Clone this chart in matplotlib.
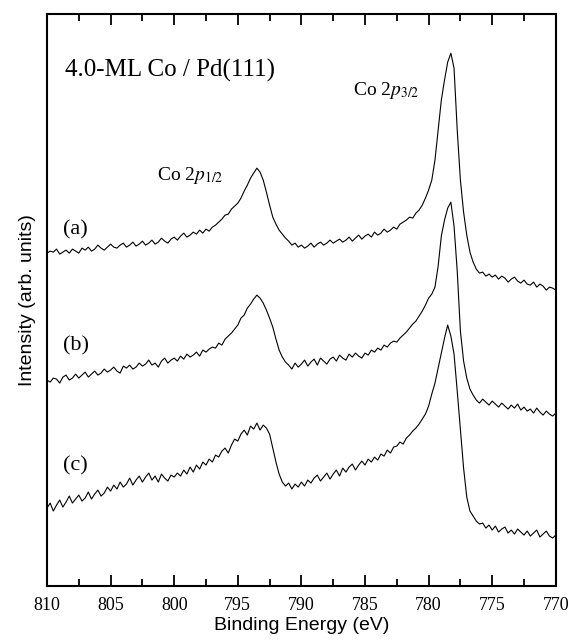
import numpy as np
import matplotlib
matplotlib.use('Agg')
import matplotlib.pyplot as plt
from matplotlib.ticker import MultipleLocator

plt.rcParams['font.family'] = 'Liberation Serif'
plt.rcParams['mathtext.fontset'] = 'stix'

# binding energy grid (eV), 0.25 eV steps from 810 down to 770
energy = 810 - 0.25 * np.arange(161)

# intensities (arb. units)
spec_a = [333, 335, 334, 337, 332, 334, 336, 333, 337, 335,
          333, 338, 336, 339, 335, 337, 341, 338, 336, 339,
          342, 339, 338, 341, 343, 339, 341, 344, 340, 342,
          345, 341, 343, 346, 342, 344, 348, 345, 343, 347,
          349, 346, 350, 353, 349, 351, 354, 352, 356, 353,
          357, 355, 359, 361, 364, 367, 371, 372, 377, 380,
          383, 388, 395, 401, 408, 413, 418, 414, 406, 394,
          381, 369, 362, 356, 352, 348, 345, 341, 343, 339,
          341, 338, 340, 343, 339, 342, 344, 341, 343, 346,
          343, 345, 347, 344, 346, 349, 345, 348, 351, 347,
          350, 352, 349, 354, 351, 353, 357, 354, 356, 359,
          357, 362, 364, 366, 369, 368, 373, 376, 381, 388,
          396, 406, 426, 456, 486, 506, 524, 533, 518, 456,
          406, 374, 351, 334, 324, 317, 313, 314, 310, 312,
          309, 311, 307, 310, 308, 304, 307, 309, 305, 303,
          306, 302, 301, 304, 299, 302, 300, 296, 299, 298,
          296]

spec_b = [206, 204, 208, 207, 203, 209, 211, 206, 208, 212,
          208, 211, 214, 209, 212, 215, 211, 213, 217, 214,
          216, 219, 215, 213, 220, 218, 221, 217, 219, 223,
          220, 222, 226, 221, 223, 219, 225, 228, 223, 226,
          228, 225, 230, 227, 232, 229, 231, 234, 230, 236,
          234, 237, 239, 238, 243, 241, 247, 250, 253, 257,
          261, 268, 271, 278, 282, 287, 291, 288, 283, 276,
          268, 259, 247, 236, 229, 224, 221, 217, 223, 219,
          222, 226, 220, 224, 227, 221, 228, 225, 222, 227,
          229, 225, 231, 228, 226, 232, 229, 233, 230, 228,
          233, 231, 236, 234, 238, 236, 241, 239, 243, 245,
          244, 248, 251, 254, 258, 262, 265, 270, 275, 281,
          288, 292, 299, 320, 350, 366, 378, 384, 360, 315,
          255, 225, 208, 197, 191, 186, 183, 187, 184, 181,
          185, 182, 179, 183, 180, 177, 181, 178, 182, 176,
          179, 175, 177, 173, 178, 174, 171, 175, 172, 170,
          173]

spec_c = [78, 83, 75, 81, 86, 79, 84, 90, 83, 87,
          91, 85, 88, 94, 87, 92, 96, 90, 93, 99,
          95, 101, 97, 104, 99, 102, 108, 101, 106, 110,
          104, 109, 113, 106, 110, 104, 112, 108, 105, 111,
          109, 113, 110, 116, 112, 119, 114, 121, 117, 124,
          121, 127, 124, 131, 129, 135, 138, 133, 141, 147,
          145, 152, 156, 151, 160, 157, 163, 156, 161, 158,
          152, 138, 124, 112, 104, 100, 103, 97, 102, 99,
          104, 100, 106, 103, 108, 111, 105, 109, 113, 107,
          112, 116, 110, 118, 114, 119, 122, 116, 121, 125,
          121, 127, 124, 129, 126, 132, 130, 136, 133, 139,
          140, 144, 142, 148, 151, 155, 158, 162, 167, 172,
          180, 192, 203, 218, 233, 248, 261, 250, 232, 195,
          156, 118, 89, 75, 70, 65, 62, 63, 58, 61,
          56, 60, 54, 57, 59, 53, 56, 52, 57, 54,
          51, 55, 50, 53, 56, 49, 52, 55, 50, 48,
          51]

fig = plt.figure(figsize=(5.73, 6.44), dpi=100)
ax = fig.add_axes([0.082, 0.090, 0.888, 0.888])

for s in (spec_a, spec_b, spec_c):
    ax.plot(energy, s, color='black', lw=0.8)

ax.set_xlim(810, 770)
ax.set_ylim(0, 572)
ax.xaxis.set_major_locator(MultipleLocator(5))
ax.xaxis.set_minor_locator(MultipleLocator(2.5))
ax.tick_params(axis='x', which='both', direction='in', top=True,
               labelsize=13, pad=8, width=1.3)
ax.tick_params(axis='x', which='major', length=8)
ax.tick_params(axis='x', which='minor', length=5)
ax.set_yticks([])
for sp in ax.spines.values():
    sp.set_linewidth(1.5)

ax.set_xlabel('Binding Energy (eV)', family='Liberation Sans', fontsize=14, labelpad=2)
ax.set_ylabel('Intensity (arb. units)', family='Liberation Sans', fontsize=14, labelpad=8)

ax.text(0.035, 0.890, '4.0-ML Co / Pd(111)', transform=ax.transAxes,
        fontsize=18, va='baseline')
ax.text(0.216, 0.710, r'Co 2$p_{1/2}$', transform=ax.transAxes,
        fontsize=14, va='baseline')
ax.text(0.601, 0.858, r'Co 2$p_{3/2}$', transform=ax.transAxes,
        fontsize=14, va='baseline')
ax.text(0.031, 0.622, '(a)', transform=ax.transAxes, fontsize=16, va='center')
ax.text(0.031, 0.420, '(b)', transform=ax.transAxes, fontsize=16, va='center')
ax.text(0.031, 0.210, '(c)', transform=ax.transAxes, fontsize=16, va='center')

fig.savefig('out.png', dpi=100)
